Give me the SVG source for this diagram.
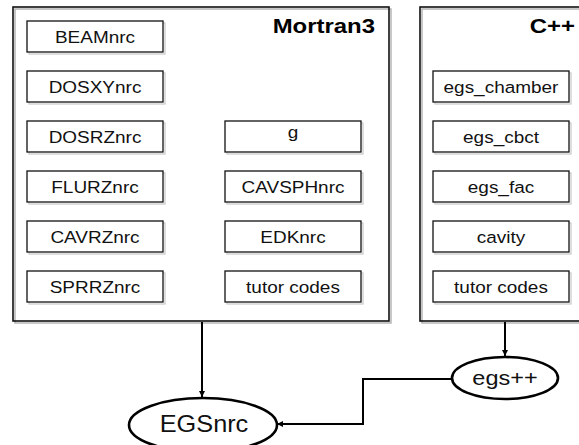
<svg xmlns="http://www.w3.org/2000/svg" width="579" height="445" viewBox="0 0 579 445">
<style>
.outer{fill:none;stroke:#111;stroke-width:1.6}
.oshadow{fill:none;stroke:#b0b0b0;stroke-width:1.4}
.box{fill:#fff;stroke:#111;stroke-width:1.3}
.bshadow{fill:none;stroke:#c8c8c8;stroke-width:1.2}
.t{font-family:"Liberation Sans",Arial,sans-serif;font-size:16.5px;fill:#111;text-anchor:middle}
.title{font-family:"Liberation Sans",Arial,sans-serif;font-size:21px;font-weight:bold;fill:#000;text-anchor:end}
.ell{fill:#fff;stroke:#000;stroke-width:2.6}
.et{font-family:"Liberation Sans",Arial,sans-serif;fill:#111;text-anchor:middle}
.conn{fill:none;stroke:#000;stroke-width:2}
</style>
<defs>
<marker id="arr" viewBox="0 0 10 10" refX="10" refY="5" markerWidth="6" markerHeight="6" orient="auto" markerUnits="userSpaceOnUse">
<path d="M0,0 L10,5 L0,10 z" fill="#000"/>
</marker>
</defs>
<rect width="579" height="445" fill="#fff"/>

<g id="mortran3">
<rect class="oshadow" x="15" y="9" width="376" height="314"/>
<rect class="outer" x="13" y="7" width="376" height="314"/>
<g transform="translate(375,33) scale(1.14,1)"><text class="title" x="0" y="0">Mortran3</text></g>
</g>

<g id="cpp">
<rect class="oshadow" x="422" y="9" width="170" height="314"/>
<rect class="outer" x="420" y="7" width="170" height="314"/>
<g transform="translate(575,33) scale(1.14,1)"><text class="title" x="0" y="0">C++</text></g>
</g>

<g id="beamnrc"><rect class="bshadow" x="29" y="23" width="136" height="31"/><rect class="box" x="27" y="21" width="136" height="31"/><g transform="translate(95,43.3) scale(1.15,1)"><text class="t" x="0" y="0">BEAMnrc</text></g></g>
<g id="dosxynrc"><rect class="bshadow" x="29" y="73" width="136" height="31"/><rect class="box" x="27" y="71" width="136" height="31"/><g transform="translate(95,93.3) scale(1.15,1)"><text class="t" x="0" y="0">DOSXYnrc</text></g></g>
<g id="dosrznrc"><rect class="bshadow" x="29" y="123" width="136" height="31"/><rect class="box" x="27" y="121" width="136" height="31"/><g transform="translate(95,143.3) scale(1.15,1)"><text class="t" x="0" y="0">DOSRZnrc</text></g></g>
<g id="flurznrc"><rect class="bshadow" x="29" y="173" width="136" height="31"/><rect class="box" x="27" y="171" width="136" height="31"/><g transform="translate(95,193.3) scale(1.15,1)"><text class="t" x="0" y="0">FLURZnrc</text></g></g>
<g id="cavrznrc"><rect class="bshadow" x="29" y="223" width="136" height="31"/><rect class="box" x="27" y="221" width="136" height="31"/><g transform="translate(95,243.3) scale(1.15,1)"><text class="t" x="0" y="0">CAVRZnrc</text></g></g>
<g id="sprrznrc"><rect class="bshadow" x="29" y="273" width="136" height="31"/><rect class="box" x="27" y="271" width="136" height="31"/><g transform="translate(95,293.3) scale(1.15,1)"><text class="t" x="0" y="0">SPRRZnrc</text></g></g>

<g id="g"><rect class="bshadow" x="227" y="123" width="136" height="31"/><rect class="box" x="225" y="121" width="136" height="31"/><g transform="translate(293,137.5) scale(1.15,1)"><text class="t" x="0" y="0">g</text></g></g>
<g id="cavsphnrc"><rect class="bshadow" x="227" y="173" width="136" height="31"/><rect class="box" x="225" y="171" width="136" height="31"/><g transform="translate(293,193.3) scale(1.15,1)"><text class="t" x="0" y="0">CAVSPHnrc</text></g></g>
<g id="edknrc"><rect class="bshadow" x="227" y="223" width="136" height="31"/><rect class="box" x="225" y="221" width="136" height="31"/><g transform="translate(293,243.3) scale(1.15,1)"><text class="t" x="0" y="0">EDKnrc</text></g></g>
<g id="tutor-mortran"><rect class="bshadow" x="227" y="273" width="136" height="31"/><rect class="box" x="225" y="271" width="136" height="31"/><g transform="translate(293,293.3) scale(1.15,1)"><text class="t" x="0" y="0">tutor codes</text></g></g>

<g id="egs_chamber"><rect class="bshadow" x="435" y="73" width="136" height="31"/><rect class="box" x="433" y="71" width="136" height="31"/><g transform="translate(501,93.3) scale(1.15,1)"><text class="t" x="0" y="0">egs_chamber</text></g></g>
<g id="egs_cbct"><rect class="bshadow" x="435" y="123" width="136" height="31"/><rect class="box" x="433" y="121" width="136" height="31"/><g transform="translate(501,143.3) scale(1.15,1)"><text class="t" x="0" y="0">egs_cbct</text></g></g>
<g id="egs_fac"><rect class="bshadow" x="435" y="173" width="136" height="31"/><rect class="box" x="433" y="171" width="136" height="31"/><g transform="translate(501,193.3) scale(1.15,1)"><text class="t" x="0" y="0">egs_fac</text></g></g>
<g id="cavity"><rect class="bshadow" x="435" y="223" width="136" height="31"/><rect class="box" x="433" y="221" width="136" height="31"/><g transform="translate(501,243.3) scale(1.15,1)"><text class="t" x="0" y="0">cavity</text></g></g>
<g id="tutor-cpp"><rect class="bshadow" x="435" y="273" width="136" height="31"/><rect class="box" x="433" y="271" width="136" height="31"/><g transform="translate(501,293.3) scale(1.15,1)"><text class="t" x="0" y="0">tutor codes</text></g></g>

<g id="connectors">
<path class="conn" d="M202,322 L202,397" marker-end="url(#arr)"/>
<path class="conn" d="M505,322 L505,356" marker-end="url(#arr)"/>
<path class="conn" d="M452,379 L363,379 L363,424 L277,424" marker-end="url(#arr)"/>
</g>

<g id="egsnrc">
<ellipse class="ell" cx="203" cy="425" rx="74" ry="27"/>
<g transform="translate(204,432) scale(1.1,1)"><text class="et" x="0" y="0" font-size="23">EGSnrc</text></g>
</g>

<g id="egspp">
<ellipse class="ell" cx="505" cy="378" rx="53" ry="21"/>
<g transform="translate(505,385) scale(1.12,1)"><text class="et" x="0" y="0" font-size="21">egs++</text></g>
</g>
</svg>
